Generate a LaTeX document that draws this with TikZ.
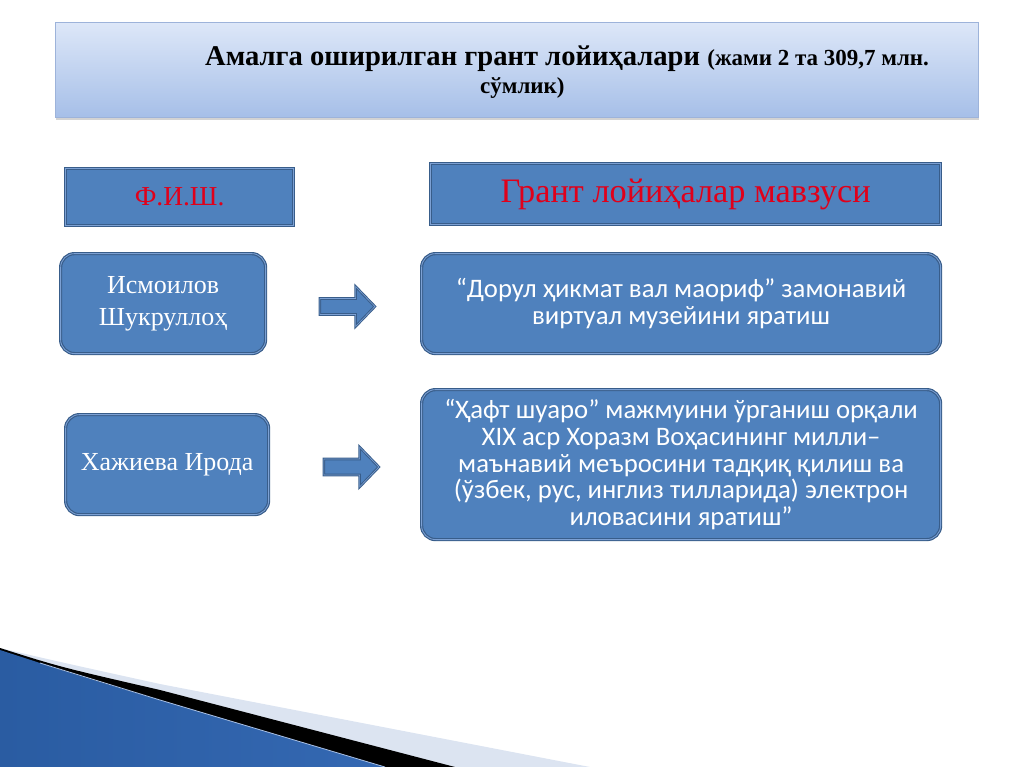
\documentclass[tikz,border=0pt]{standalone}
\usepackage{fontspec}
\setmainfont{Liberation Serif}
\newfontfamily\calib{Carlito}
\usetikzlibrary{shapes.arrows,shadows,calc}
\definecolor{boxfill}{HTML}{4F81BD}
\definecolor{boxline}{HTML}{385D8A}
\definecolor{boxinner}{HTML}{7DA1D4}
\definecolor{titletop}{HTML}{DDE7F8}
\definecolor{titlebot}{HTML}{A6BFE8}
\definecolor{titleline}{HTML}{9DB3DA}
\definecolor{redtext}{HTML}{E0001A}
\definecolor{swblue}{HTML}{2A5CA2}
\definecolor{swlight}{HTML}{6A96D6}
\definecolor{swright}{HTML}{3468B2}
\definecolor{bandlight}{HTML}{DCE4F1}
\definecolor{swedge}{HTML}{A9C0E4}
\tikzset{
  headbox/.style={draw=boxline, line width=1.2pt, double=boxinner, double distance=0.8pt, fill=boxfill, minimum height=#1},
  roundbox/.style={headbox=#1, rounded corners=14pt},
  blockarrow/.style={single arrow, draw=boxline, line width=1pt, double=boxinner, double distance=0.6pt, fill=boxfill,
     single arrow head extend=12pt, single arrow tip angle=92, inner xsep=0pt, inner ysep=7.5pt, minimum height=#1},
  nametext/.style={text=white, font=\fontsize{26}{32}\selectfont, align=center},
  topictext/.style={text=white, font=\calib\fontsize{26.7}{26.6}\selectfont, align=center}
}
\begin{document}
\begin{tikzpicture}[x=1pt,y=-1pt]
\useasboundingbox (0,0) rectangle (1024,767);
% bottom swoosh
\fill[bandlight] (0,648) .. controls (60,662) .. (160,684) -- (590,767) -- (0,767) -- cycle;
\fill[black] (0,648) .. controls (60,667) .. (160,690) -- (455,767) -- (0,767) -- cycle;
\shade[left color=swblue, middle color=swlight, right color=swright] (0,650) .. controls (80,676) .. (160,700) -- (385,767) -- (0,767) -- cycle;
\draw[swedge, line width=0.8pt] (40,663) .. controls (100,682) .. (160,700) -- (385,767);
% title
\node[draw=titleline, line width=0.6pt, top color=titletop, bottom color=titlebot, minimum width=923pt, minimum height=95pt,
  drop shadow={shadow xshift=1pt, shadow yshift=-3pt, opacity=0.35}, anchor=north west, inner sep=0pt] (title) at (55,22) {};
\node[anchor=base west, inner sep=0pt, font=\bfseries\fontsize{28.6}{30}\selectfont] (t1) at (205,66)
  {Амалга оширилган грант лойиҳалари {\fontsize{23}{26}\selectfont (жами 2 та 309,7 млн.}};
\node[anchor=base west, inner sep=0pt, font=\bfseries\fontsize{23}{26}\selectfont] (t2) at (480,94) {сўмлик)};
% header boxes
\node[headbox=57pt, minimum width=228pt, anchor=north west] (fish) at (65,168)
  {\textcolor{redtext}{\fontsize{27.4}{30}\selectfont Ф.И.Ш.}};
\node[headbox=61pt, minimum width=510pt, anchor=north west] (grant) at (430,163)
  {\textcolor{redtext}{\fontsize{34.3}{38}\selectfont Грант лойиҳалар мавзуси}};
% row 1
\node[roundbox=100pt, minimum width=205pt, anchor=north west, nametext] (ism) at (60,253)
  {\raisebox{-4pt}{\parbox{180pt}{\centering Исмоилов\\Шукруллоҳ}}};
\node[roundbox=100pt, minimum width=519pt, anchor=north west, topictext] (dorul) at (421,253)
  {“Дорул ҳикмат вал маориф” замонавий\\виртуал музейини яратиш};
\node[blockarrow=55pt] (a1) at (343.5,306.5) {};
% row 2
\node[roundbox=100pt, minimum width=203pt, anchor=north west, nametext] (haj) at (65,414)
  {\raisebox{-3pt}{Хажиева Ирода}};
\node[roundbox=150pt, minimum width=519pt, anchor=north west, topictext] (haft) at (421,389)
  {“Ҳафт шуаро” мажмуини ўрганиш орқали\\XIX аср Хоразм Воҳасининг милли–\\маънавий меъросини тадқиқ қилиш ва\\(ўзбек, рус, инглиз тилларида) электрон\\иловасини яратиш”};
\node[blockarrow=55pt] (a2) at (347.5,467) {};
\end{tikzpicture}
\end{document}
